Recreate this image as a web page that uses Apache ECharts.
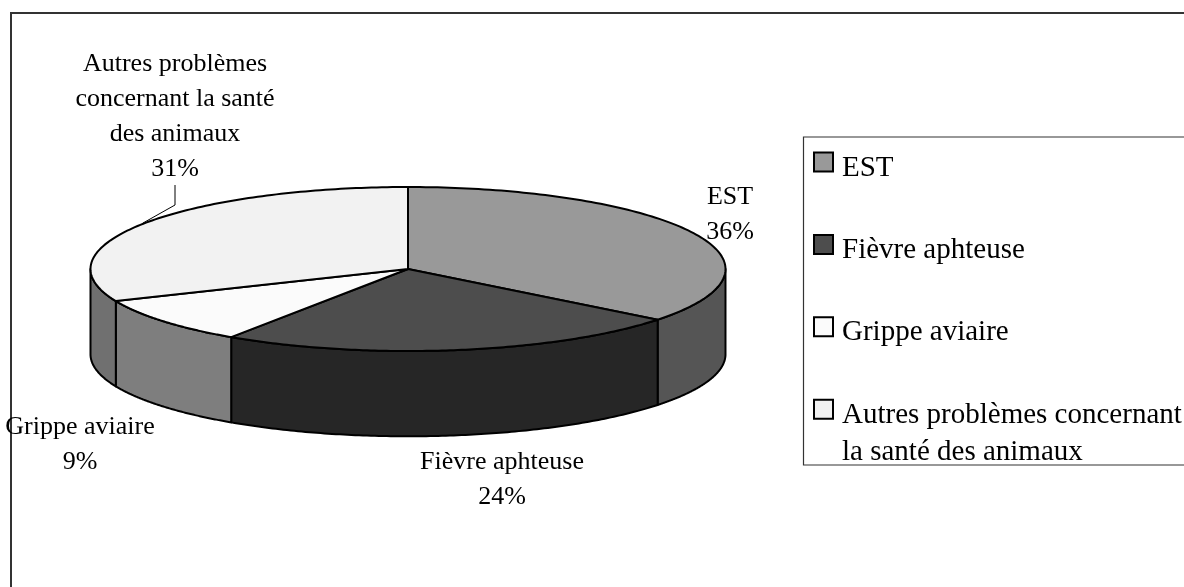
<!DOCTYPE html>
<html><head><meta charset="utf-8">
<style>html,body{margin:0;padding:0;background:#fff}#c{width:1184px;height:587px}</style>
<script src="https://cdn.jsdelivr.net/npm/echarts@6/dist/echarts.min.js"></script>
</head><body><div id="c"></div>
<script>
var categories = ['EST', 'Fièvre aphteuse', 'Grippe aviaire', 'Autres problèmes concernant la santé des animaux'];
var shares = [35.6, 23.8, 9.2, 31.4];
var labelLines = [['EST'], ['Fièvre aphteuse'], ['Grippe aviaire'], ['Autres problèmes', 'concernant la santé', 'des animaux']];
var legendLines = [['EST'], ['Fièvre aphteuse'], ['Grippe aviaire'], ['Autres problèmes concernant', 'la santé des animaux']];

var topColors = ['#999999', '#4d4d4d', '#fbfbfb', '#f2f2f2'];
var sideColors = ['#555555', '#262626', '#7e7e7e', '#707070'];
var labelCenters = [[730, 197], [502, 462], [80, 427], [175, 64]];
var labelLineGap = 35;
var depth = 1.04; // wall height, in y-axis units
var FONT = '"Liberation Serif","Times New Roman",serif';

var total = shares.reduce(function (a, b) { return a + b; }, 0);
var cum = 0;
var spans = shares.map(function (v) {
  var s = cum; cum += v;
  return [s / total * 2 * Math.PI, cum / total * 2 * Math.PI];
});

function onEllipse(t, drop) { return [Math.sin(t), Math.cos(t) - (drop || 0)]; }

function renderSlice(idx) {
  return function (params, api) {
    var a = api.value(0), b = api.value(1), n = 120, i, t;
    var kids = [];
    // visible front wall: the part of the span between 3 o'clock and 9 o'clock
    var wa = Math.max(a, Math.PI / 2), wb = Math.min(b, 3 * Math.PI / 2);
    if (wb > wa) {
      var pts = [];
      for (i = 0; i <= n; i++) { t = wa + (wb - wa) * i / n; pts.push(api.coord(onEllipse(t))); }
      for (i = n; i >= 0; i--) { t = wa + (wb - wa) * i / n; pts.push(api.coord(onEllipse(t, depth))); }
      kids.push({ type: 'polygon', shape: { points: pts },
        style: { fill: sideColors[idx], stroke: '#000', lineWidth: 2, lineJoin: 'round' } });
    }
    var top = [api.coord([0, 0])];
    for (i = 0; i <= n; i++) { t = a + (b - a) * i / n; top.push(api.coord(onEllipse(t))); }
    kids.push({ type: 'polygon', shape: { points: top },
      style: { fill: topColors[idx], stroke: '#000', lineWidth: 2, lineJoin: 'round' } });
    return { type: 'group', children: kids };
  };
}

function renderLabels(params, api) {
  var idx = params.dataIndex, kids = [];
  var pct = Math.round(api.value(0)) + '%';
  labelLines[idx].concat([pct]).forEach(function (line, i) {
    kids.push({ type: 'text', z2: 10, style: {
      text: line, x: labelCenters[idx][0], y: labelCenters[idx][1] + i * labelLineGap,
      align: 'center', verticalAlign: 'middle', fill: '#000', font: '26px ' + FONT } });
  });
  return { type: 'group', children: kids };
}

var series = categories.map(function (name, i) {
  return {
    type: 'custom', name: name, coordinateSystem: 'cartesian2d', silent: true,
    renderItem: renderSlice(i),
    clip: false,
    encode: { x: 0, y: 1 },
    itemStyle: { color: topColors[i], borderColor: '#000', borderWidth: 1.6 },
    data: [[spans[i][0], spans[i][1]]],
    animation: false
  };
});
series.push({
  type: 'custom', name: 'labels', coordinateSystem: 'cartesian2d', silent: true, clip: false,
  renderItem: renderLabels, data: shares.map(function (v) { return [v]; }), animation: false, z: 5
});

// Legend rows: a taller spacer line above the name keeps the swatch beside the first line of the name.
var legendNames = {};
categories.forEach(function (c, i) {
  var rows = legendLines[i].map(function (l) { return '{t|' + l + '}'; });
  if (rows.length === 1) rows.push('{e| }');
  legendNames[c] = '{s| }\n' + rows.join('\n');
});

var chart = echarts.init(document.getElementById('c'), null, { renderer: 'canvas' });
chart.setOption({
  animation: false,
  backgroundColor: '#fff',
  grid: { left: 90.5, width: 635, top: 187, height: 164 },
  xAxis: { type: 'value', min: -1, max: 1, show: false },
  yAxis: { type: 'value', min: -1, max: 1, show: false },
  legend: {
    data: categories, orient: 'vertical', left: 813, top: 120, padding: 0,
    itemWidth: 19, itemHeight: 19, itemGap: -7.6, icon: 'rect', selectedMode: false,
    align: 'left',
    textStyle: {
      fontFamily: FONT, fontSize: 29, color: '#000', padding: [0, 0, 0, 4],
      rich: {
        s: { fontFamily: FONT, fontSize: 10, lineHeight: 49 },
        e: { fontFamily: FONT, fontSize: 10, lineHeight: 37 },
        t: { fontFamily: FONT, fontSize: 29, lineHeight: 37, color: '#000' }
      }
    },
    formatter: function (n) { return legendNames[n]; }
  },
  graphic: [
    { type: 'rect', z: -1, shape: { x: 11, y: 13, width: 1300, height: 700 }, style: { fill: 'none', stroke: '#333', lineWidth: 2 } },
    { type: 'rect', z: -1, shape: { x: 803.5, y: 137, width: 500, height: 328 }, style: { fill: 'none', stroke: '#333', lineWidth: 1.2 } },
    { type: 'polyline', z: 3, shape: { points: [[175, 185], [175, 205], [143, 223]] }, style: { fill: 'none', stroke: '#000', lineWidth: 1 } }
  ],
  series: series
});
</script></body></html>
